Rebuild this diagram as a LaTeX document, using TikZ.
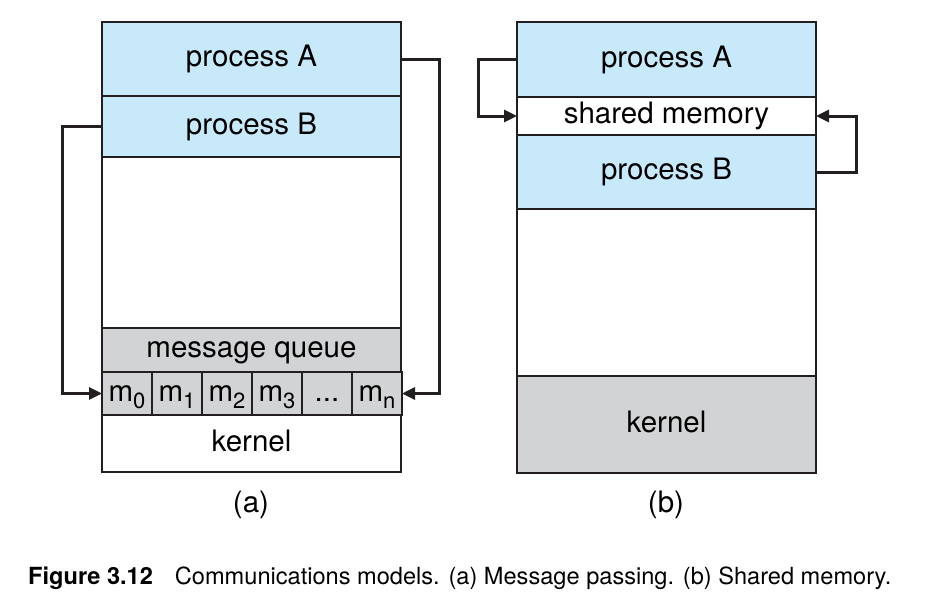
\documentclass[tikz,border=0pt]{standalone}
\usepackage{fontspec}
\setmainfont{TeX Gyre Heros}
\usetikzlibrary{arrows.meta}
\definecolor{pblue}{RGB}{200,233,249}
\definecolor{kgray}{RGB}{210,211,213}
\definecolor{edge}{RGB}{35,31,32}
\tikzset{
  box/.style={draw=edge, line width=1.8pt, inner sep=0pt, outer sep=0pt, anchor=north west,
    minimum width=299pt, font=\fontsize{29.5}{31}\selectfont, text height=21pt, text depth=6pt},
  cell/.style={draw=edge, line width=1.8pt, inner sep=0pt, outer sep=0pt, anchor=north west,
    minimum width=50pt, minimum height=43pt, fill=kgray, font=\fontsize{29.5}{31}\selectfont,
    text height=21pt, text depth=6pt},
  arr/.style={draw=edge, line width=3pt, -{Triangle[length=13pt,width=12pt]}},
  lbl/.style={font=\fontsize{29.5}{31}\selectfont, inner sep=0pt},
}
\newcommand{\msub}[1]{m{\fontsize{22}{22}\selectfont\raisebox{-7pt}{#1}}}
\begin{document}
\begin{tikzpicture}[x=1pt,y=-1pt]
\useasboundingbox (0,0) rectangle (938,611);
% (a)
\node[box, fill=pblue, minimum height=74pt] (aA) at (102,22) {process A};
\node[box, fill=pblue, minimum height=61pt] (aB) at (102,96) {process B};
\node[box, minimum height=171pt] (aE) at (102,157) {};
\node[box, fill=kgray, minimum height=44pt] (mq) at (102,328) {message queue};
\node[cell] (m0) at (102,372) {\msub{0}};
\node[cell] (m1) at (152,372) {\msub{1}};
\node[cell] (m2) at (202,372) {\msub{2}};
\node[cell] (m3) at (252,372) {\msub{3}};
\node[cell] (md) at (302,372) {...};
\node[cell] (mn) at (352,372) {\msub{n}};
\node[box, minimum height=57pt] (aK) at (102,415) {kernel};
\draw[arr] (aB.west) -- ++(-40,0) |- (m0.west);
\draw[arr] (aA.east) -- ++(38,0) |- (mn.east);
\node[lbl] (la) at (251,505) {(a)};
% (b)
\node[box, fill=pblue, minimum height=75pt] (bA) at (517,22) {process A};
\node[box, minimum height=38pt] (sm) at (517,97) {shared memory};
\node[box, fill=pblue, minimum height=74pt] (bB) at (517,135) {process B};
\node[box, minimum height=167pt] (bE) at (517,209) {};
\node[box, fill=kgray, minimum height=97pt] (bK) at (517,376) {kernel};
\draw[arr] (bA.west) -- ++(-39,0) |- (sm.west);
\draw[arr] (bB.east) -- ++(40,0) |- (sm.east);
\node[lbl] (lb) at (666,505) {(b)};
% caption
\node[anchor=west, inner sep=0pt, font=\fontsize{23.6}{25}\selectfont] (cap) at (28,578)
  {\textbf{Figure 3.12}\hspace{22pt}Communications models. (a) Message passing. (b) Shared memory.};
\end{tikzpicture}
\end{document}
